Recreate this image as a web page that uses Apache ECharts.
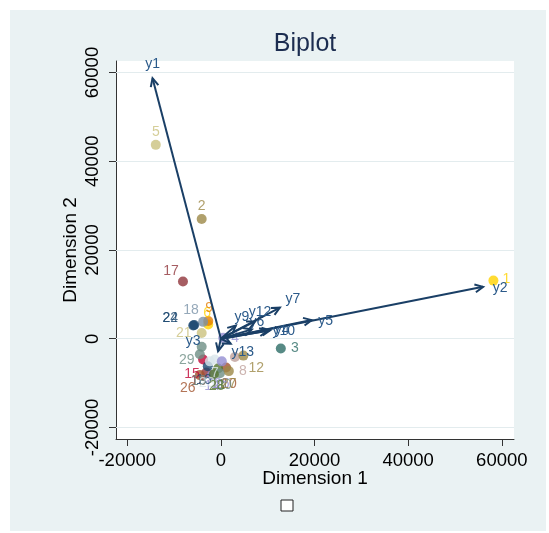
<!DOCTYPE html>
<html><head><meta charset="utf-8">
<script src="https://cdn.jsdelivr.net/npm/echarts@6/dist/echarts.min.js"></script>
<style>html,body{margin:0;padding:0;background:#fff}#c{width:549px;height:533px}</style>
</head><body><div id="c"></div>
<script>
// ---- data ----
const obsLabels = ['1','2','3','4','5','6','7','8','9','10','11','12','13','14','15','16','17','18','19','20','21','22','23','24','25','26','27','28','29'];
const obsX = [58200,-4100,12800,500,-13900,-2700,-1300,3000,-2700,1100,-600,4800,-3100,-1900,-3800,-2800,-8100,-3800,-4500,-200,-4100,-5900,-2350,-5700,200,-4500,1700,-1500,-4100];
const obsY = [13100,27000,-2200,200,43700,3200,-4700,-4100,4000,-6500,-6700,-3800,-7600,-8200,-4700,-6200,12900,3800,-3500,-7800,1300,3000,-5100,3100,-5100,-8200,-7300,-8000,-1800];
const varNames = ['y1','y2','y3','y4','y5','y6','y7','y9','y10','y12','y13'];
const varX = [-14600,56000,-600,10500,19400,6600,12600,3200,10000,7300,2100];
const varY = [58700,11700,-2800,1900,4200,2100,7000,3000,1800,3900,-1100];
const xTicks = [-20000,0,20000,40000,60000];
const yTicks = [-20000,0,20000,40000,60000];

// ---- styles ----
const P = {navy:'#1a476f',maroon:'#90353b',forest:'#55752f',orange:'#e37e00',teal:'#6e8e84',cran:'#c10534',lav:'#938dd2',khaki:'#cac27e',sienna:'#a0522d',emid:'#7b92a8',emer:'#2d6d66',brown:'#9c8847',erose:'#bfa19c',gold:'#ffd200',bgray:'#d9e6eb'};
const obsColor = {'1':P.gold,'2':P.brown,'3':P.emer,'4':P.lav,'5':P.khaki,'6':P.gold,'7':P.bgray,'8':P.erose,'9':P.orange,'10':P.sienna,'11':P.forest,'12':P.brown,'13':P.maroon,'14':P.lav,'15':P.cran,'16':P.navy,'17':P.maroon,'18':P.emid,'19':P.teal,'20':P.teal,'21':P.khaki,'22':P.navy,'23':P.bgray,'24':P.navy,'25':P.lav,'26':P.sienna,'27':P.brown,'28':P.forest,'29':P.teal};
const obsOff = {'1':[13,-1],'2':[0,-13],'3':[14,0],'4':[12,0],'5':[0,-13],'6':[-1,-11],'7':[0,14],'8':[8,14],'9':[1,-13],'10':[3,17],'11':[0,17],'12':[13,13],'13':[-8,9],'14':[0,11],'15':[-11,15],'16':[-4,14],'17':[-12,-10],'18':[-12,-12],'19':[-1,27],'20':[4,12],'21':[-18,0],'22':[-23,-7],'23':[-3,22],'24':[-24,-7],'25':[0,23],'26':[-12,13],'27':[0,13],'28':[3,12],'29':[-15,13]};
const varOff = {'y1':[0,-14],'y2':[17,1],'y3':[-25,-10],'y4':[12,0],'y5':[14,1],'y6':[5,-7],'y7':[13,-9],'y9':[6,-8],'y10':[16,0],'y12':[5,-9],'y13':[12,9]};
const FONT = '"Liberation Sans", Arial, sans-serif';
const ARROW = '#1a3f66';

const chart = echarts.init(document.getElementById('c'), null, {renderer:'canvas'});
const scatterData = obsLabels.map((n,i)=>({
  name:n, value:[obsX[i],obsY[i]],
  itemStyle:{color:obsColor[n]},
  label:{color:obsColor[n], offset:obsOff[n]}
}));
const plain = v => String(v);
chart.setOption({
  backgroundColor:'#ffffff',
  animation:false,
  graphic:[
    {type:'rect', left:10, top:10, shape:{width:536, height:521}, style:{fill:'#eaf2f3'}, z:-10, silent:true},
    {type:'rect', left:116, top:61, shape:{width:398, height:378}, style:{fill:'#ffffff'}, z:-9, silent:true},
    {type:'rect', left:280.5, top:499.5, shape:{width:12, height:11}, style:{fill:'#ffffff', stroke:'#222', lineWidth:1}, z:10}
  ],
  title:{text:'Biplot', left:300, top:27, textAlign:'center',
    textStyle:{fontFamily:FONT, fontSize:25, fontWeight:'normal', color:'#1c2d50'}},
  grid:{left:116, right:35, top:61, bottom:94, containLabel:false},
  xAxis:{type:'value', min:-22400, max:62600,
    name:'Dimension 1', nameLocation:'middle', nameGap:30, nameMoveOverlap:false,
    nameTextStyle:{fontFamily:FONT, fontSize:19, color:'#000'},
    axisLine:{show:true, onZero:false, lineStyle:{color:'#333', width:1}},
    axisTick:{show:true, length:7, customValues:xTicks, lineStyle:{color:'#333'}},
    axisLabel:{customValues:xTicks, formatter:plain, margin:12, fontFamily:FONT, fontSize:18.5, color:'#000'},
    splitLine:{show:false}},
  yAxis:{type:'value', min:-22600, max:62600,
    name:'Dimension 2', nameLocation:'middle', nameGap:36, nameRotate:90, nameMoveOverlap:false,
    nameTextStyle:{fontFamily:FONT, fontSize:19, color:'#000'},
    axisLine:{show:true, onZero:false, lineStyle:{color:'#333', width:1}},
    axisTick:{show:true, length:7, customValues:yTicks, lineStyle:{color:'#333'}},
    axisLabel:{customValues:yTicks, formatter:plain, rotate:90, margin:14, fontFamily:FONT, fontSize:18.5, color:'#000'},
    splitLine:{show:false}},
  series:[
    {type:'scatter', symbol:'circle', symbolSize:10, z:2,
      data:scatterData,
      label:{show:true, position:'inside', formatter:'{b}', fontFamily:FONT, fontSize:14},
      markLine:{silent:true, symbol:'none', label:{show:false}, z:1,
        lineStyle:{color:'#e3ecee', width:1, type:'solid'},
        data:yTicks.map(v=>({yAxis:v}))}
    },
    {type:'custom', z:3,
      data:varNames.map((n,i)=>[varX[i],varY[i]]),
      renderItem:function(params, api){
        const o = api.coord([0,0]);
        const t = api.coord([api.value(0), api.value(1)]);
        const ang = Math.atan2(t[1]-o[1], t[0]-o[0]);
        const L = 9, a = 0.45;
        const b1 = [t[0]-L*Math.cos(ang-a), t[1]-L*Math.sin(ang-a)];
        const b2 = [t[0]-L*Math.cos(ang+a), t[1]-L*Math.sin(ang+a)];
        const name = varNames[params.dataIndex];
        const off = varOff[name];
        return {type:'group', children:[
          {type:'line', shape:{x1:o[0],y1:o[1],x2:t[0],y2:t[1]}, style:{stroke:ARROW, lineWidth:2}},
          {type:'polyline', shape:{points:[b1,t,b2]}, style:{stroke:ARROW, lineWidth:2, fill:null}},
          {type:'text', x:t[0]+off[0], y:t[1]+off[1], style:{text:name, fill:'#2b5a8a', font:'14px '+FONT, align:'center', verticalAlign:'middle'}}
        ]};
      }
    }
  ]
});
</script></body></html>
